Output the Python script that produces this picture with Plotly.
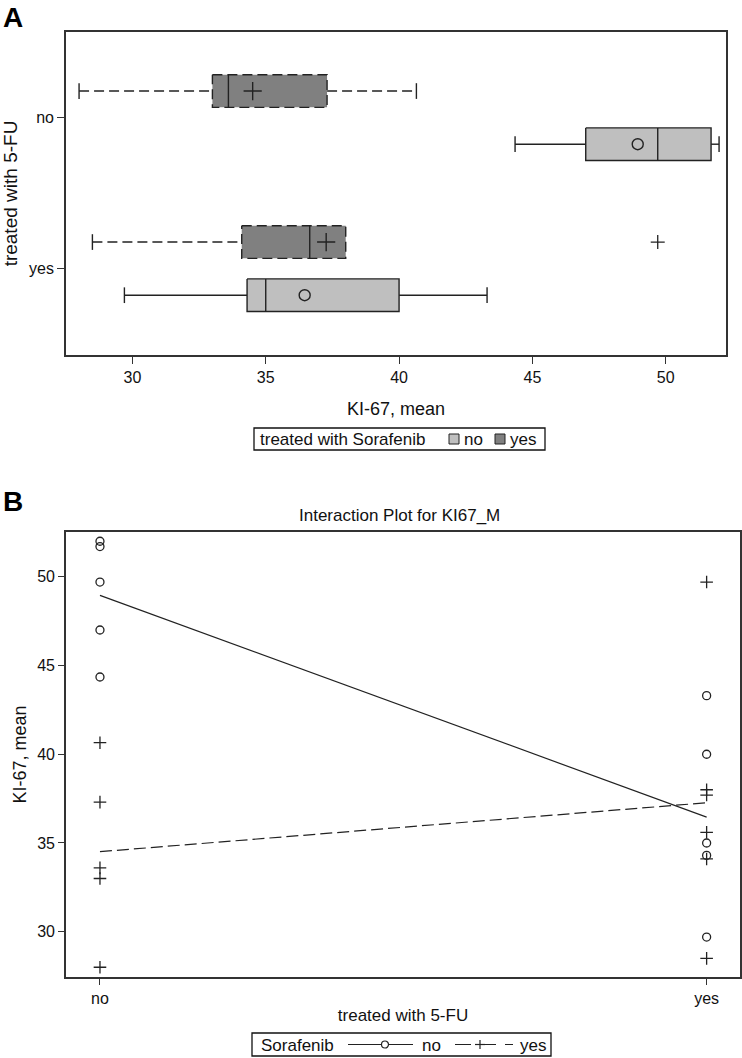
import numpy as np
import plotly.graph_objects as go

# ---------------- data ----------------
fu_levels = ["no", "yes"]                 # treated with 5-FU
sor_levels = ["no", "yes"]                # treated with Sorafenib
ki67_fu_no_sor_no = [52.0, 51.7, 49.7, 47.0, 44.35]
ki67_fu_no_sor_yes = [40.65, 37.3, 33.6, 33.0, 28.0]
ki67_fu_yes_sor_no = [43.3, 40.0, 35.0, 34.3, 29.7]
ki67_fu_yes_sor_yes = [49.7, 38.0, 37.7, 35.6, 34.1, 28.5]
x_ticks_a = [30, 35, 40, 45, 50]
y_ticks_b = [30, 35, 40, 45, 50]

groups = {
    ("no", "no"): ki67_fu_no_sor_no,
    ("no", "yes"): ki67_fu_no_sor_yes,
    ("yes", "no"): ki67_fu_yes_sor_no,
    ("yes", "yes"): ki67_fu_yes_sor_yes,
}

FONT = "Liberation Sans, Arial, sans-serif"
LIGHT = "#bfbfbf"
DARK = "#808080"
INK = "#222222"
W, H = 742, 1058


def px_x(p):
    return p / W


def px_y(p):
    return 1 - p / H


def box_stats(values):
    s = np.sort(np.asarray(values, dtype=float))
    n = len(s)
    if n % 2:
        lower, upper = s[: n // 2 + 1], s[n // 2:]
    else:
        lower, upper = s[: n // 2], s[n // 2:]
    q1, med, q3 = np.median(lower), np.median(s), np.median(upper)
    iqr = q3 - q1
    inside = s[(s >= q1 - 1.5 * iqr) & (s <= q3 + 1.5 * iqr)]
    out = s[(s < q1 - 1.5 * iqr) | (s > q3 + 1.5 * iqr)]
    return dict(q1=q1, med=med, q3=q3, lo=inside.min(), hi=inside.max(),
                mean=s.mean(), out=list(out))


fig = go.Figure()

# ---------------- Panel A: horizontal box plots ----------------
offset = {"no": 0.18, "yes": -0.172}
half_h = 0.108
cap_h = 0.052
style = {
    "no": dict(fill=LIGHT, dash="solid", mean_sym="circle-open", mean_size=11),
    "yes": dict(fill=DARK, dash="10px,5px", mean_sym="cross-thin-open", mean_size=13),
}

for (fu, sor), vals in groups.items():
    st = box_stats(vals)
    yc = fu_levels.index(fu) + offset[sor]
    sty = style[sor]
    lw = 1.4
    wx, wy, cx, cy = [], [], [], []
    if st["lo"] < st["q1"]:
        wx += [st["lo"], st["q1"], None]
        wy += [yc, yc, None]
        cx += [st["lo"], st["lo"], None]
        cy += [yc - cap_h, yc + cap_h, None]
    if st["hi"] > st["q3"]:
        wx += [st["q3"], st["hi"], None]
        wy += [yc, yc, None]
        cx += [st["hi"], st["hi"], None]
        cy += [yc - cap_h, yc + cap_h, None]
    fig.add_trace(go.Scatter(x=wx, y=wy, mode="lines", xaxis="x", yaxis="y",
                             line=dict(color=INK, width=lw, dash=sty["dash"]),
                             showlegend=False, hoverinfo="skip"))
    fig.add_trace(go.Scatter(x=cx, y=cy, mode="lines", xaxis="x", yaxis="y",
                             line=dict(color=INK, width=lw),
                             showlegend=False, hoverinfo="skip"))
    fig.add_trace(go.Scatter(
        x=[st["q1"], st["q3"], st["q3"], st["q1"], st["q1"]],
        y=[yc - half_h, yc - half_h, yc + half_h, yc + half_h, yc - half_h],
        mode="lines", fill="toself", fillcolor=sty["fill"],
        line=dict(color=INK, width=lw, dash=sty["dash"]),
        xaxis="x", yaxis="y", showlegend=False, hoverinfo="skip"))
    fig.add_trace(go.Scatter(x=[st["med"], st["med"]], y=[yc - half_h, yc + half_h],
                             mode="lines", xaxis="x", yaxis="y",
                             line=dict(color=INK, width=lw),
                             showlegend=False, hoverinfo="skip"))
    fig.add_trace(go.Scatter(x=[st["mean"]], y=[yc], mode="markers", xaxis="x", yaxis="y",
                             marker=dict(symbol=sty["mean_sym"], size=sty["mean_size"],
                                         color=INK, line=dict(color=INK, width=1.4)),
                             showlegend=False, hoverinfo="skip"))
    if st["out"]:
        fig.add_trace(go.Scatter(x=st["out"], y=[yc] * len(st["out"]), mode="markers",
                                 xaxis="x", yaxis="y",
                                 marker=dict(symbol="cross-thin-open", size=10, color=INK,
                                             line=dict(color=INK, width=1.3)),
                                 showlegend=False, hoverinfo="skip"))

# ---------------- Panel B: interaction plot ----------------
sym_b = {"no": "circle-open", "yes": "cross-thin-open"}
dash_b = {"no": "solid", "yes": "12px,5px"}
for sor in sor_levels:
    xs, ys = [], []
    for i, fu in enumerate(fu_levels):
        v = groups[(fu, sor)]
        xs += [i] * len(v)
        ys += list(v)
    fig.add_trace(go.Scatter(x=xs, y=ys, mode="markers", xaxis="x2", yaxis="y2",
                             marker=dict(symbol=sym_b[sor], size=8 if sor == "no" else 9,
                                         color=INK, line=dict(color=INK, width=1.3)),
                             showlegend=False, hoverinfo="skip"))
    means = [float(np.mean(groups[(fu, sor)])) for fu in fu_levels]
    fig.add_trace(go.Scatter(x=list(range(len(fu_levels))), y=means, mode="lines",
                             xaxis="x2", yaxis="y2",
                             line=dict(color=INK, width=1.2, dash=dash_b[sor]),
                             showlegend=False, hoverinfo="skip"))

# ---------------- legends (drawn as layout shapes + text) ----------------
shapes = []
annotations = []


def rect(x0, y0, x1, y1, **kw):
    shapes.append(dict(type="rect", xref="paper", yref="paper",
                       x0=px_x(x0), x1=px_x(x1), y0=px_y(y1), y1=px_y(y0), **kw))


def hline(x0, x1, y, dash="solid", width=1.2):
    shapes.append(dict(type="line", xref="paper", yref="paper",
                       x0=px_x(x0), x1=px_x(x1), y0=px_y(y), y1=px_y(y),
                       line=dict(color=INK, width=width, dash=dash)))


def vline(x, y0, y1, width=1.2):
    shapes.append(dict(type="line", xref="paper", yref="paper",
                       x0=px_x(x), x1=px_x(x), y0=px_y(y0), y1=px_y(y1),
                       line=dict(color=INK, width=width)))


def text(s, x, y, size=17, anchor="left"):
    annotations.append(dict(text=s, x=px_x(x), y=px_y(y), xref="paper", yref="paper",
                            xanchor=anchor, yanchor="middle", showarrow=False,
                            borderpad=0, font=dict(family=FONT, size=size, color="#111111")))


# legend A
rect(254, 428, 545, 450, line=dict(color="#111111", width=1.3), fillcolor="white")
text("treated with Sorafenib", 259, 439.5)
rect(449, 434, 459, 444, line=dict(color=INK, width=1), fillcolor=LIGHT)
text(sor_levels[0], 463, 439.5)
rect(495, 434, 505, 444, line=dict(color=INK, width=1), fillcolor=DARK)
text(sor_levels[1], 509, 439.5)

# legend B
rect(252, 1033, 551, 1056, line=dict(color="#111111", width=1.3), fillcolor="white")
text("Sorafenib", 260, 1045)
hline(348, 413, 1044.5)
shapes.append(dict(type="circle", xref="paper", yref="paper",
                   x0=px_x(381.5), x1=px_x(388.5), y0=px_y(1048), y1=px_y(1041),
                   line=dict(color=INK, width=1.2), fillcolor="white"))
text(sor_levels[0], 421, 1045)
hline(455, 513, 1044.5, dash="16px,9px")
hline(475, 485, 1044.5, width=1.2)
vline(480, 1040, 1049)
text(sor_levels[1], 519, 1045)

axis_common = dict(showline=True, linecolor="#333333", linewidth=1.6, mirror=True,
                   ticks="outside", tickcolor="#333333", tickwidth=1.3,
                   showgrid=False, zeroline=False, automargin=False,
                   tickfont=dict(family=FONT, size=16, color="#111111"))

annotations += [
    dict(text="<b>A</b>", x=0, y=1, xref="paper", yref="paper", xanchor="left",
         yanchor="top", showarrow=False, font=dict(family=FONT, size=28, color="black"),
         xshift=1),
    dict(text="<b>B</b>", x=0, y=px_y(484), xref="paper", yref="paper", xanchor="left",
         yanchor="top", showarrow=False, font=dict(family=FONT, size=28, color="black"),
         xshift=1),
    dict(text="Interaction Plot for KI67_M", x=px_x(400), y=px_y(515), xref="paper",
         yref="paper", xanchor="center", yanchor="middle", showarrow=False,
         font=dict(family=FONT, size=17, color="#111111")),
]

fig.update_layout(
    width=W, height=H,
    margin=dict(l=0, r=0, t=0, b=0, autoexpand=False),
    paper_bgcolor="white", plot_bgcolor="white",
    font=dict(family=FONT, color="#111111"),
    showlegend=False,
    xaxis=dict(domain=[px_x(66), px_x(726)], anchor="y", range=[27.51, 52.26],
               tickvals=x_ticks_a, ticklen=7,
               title=dict(text="KI-67, mean", font=dict(size=18), standoff=17),
               **axis_common),
    yaxis=dict(domain=[px_y(355), px_y(32)], anchor="x", range=[1.576, -0.563],
               tickvals=[0, 1], ticktext=fu_levels, ticklen=7,
               title=dict(text="treated with 5-FU", font=dict(size=19), standoff=10),
               **axis_common),
    xaxis2=dict(domain=[px_x(66), px_x(740)], anchor="y2", range=[-0.056, 1.055],
                tickvals=[0, 1], ticktext=fu_levels, ticklen=6,
                title=dict(text="treated with 5-FU", font=dict(size=17), standoff=3),
                **axis_common),
    yaxis2=dict(domain=[px_y(977), px_y(532)], anchor="x2", range=[27.45, 52.52],
                tickvals=y_ticks_b, ticklen=6,
                title=dict(text="KI-67, mean", font=dict(size=18), standoff=6),
                **axis_common),
    shapes=shapes,
    annotations=annotations,
)

fig.write_html("out.html", config={"displayModeBar": False},
               post_script="document.body.style.margin='0px';")
